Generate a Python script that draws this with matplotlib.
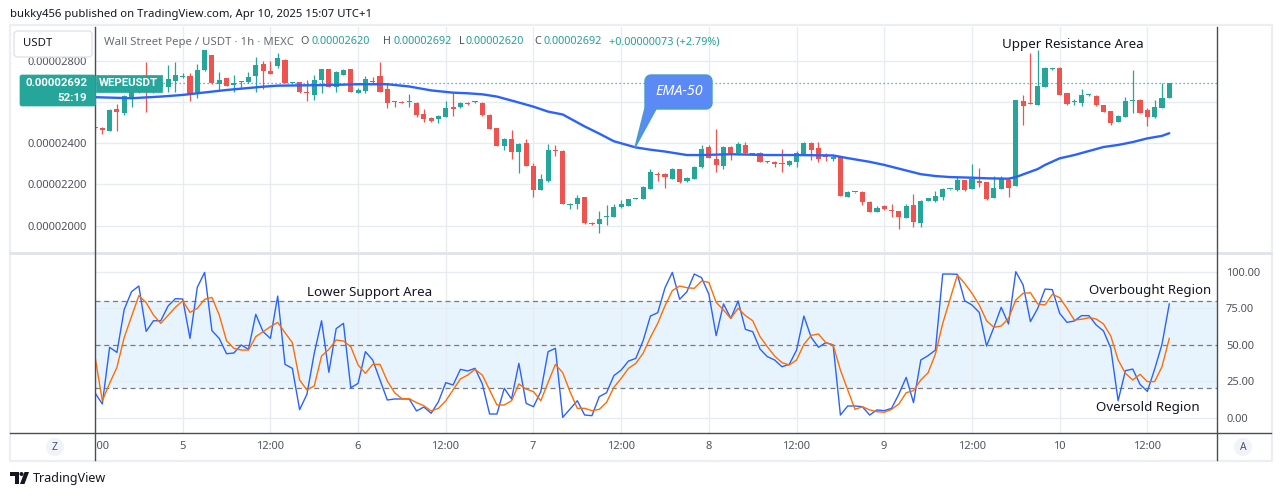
import numpy as np
import matplotlib
matplotlib.use("Agg")
import matplotlib.pyplot as plt
from matplotlib.patches import Rectangle, Circle, Polygon, FancyBboxPatch
from matplotlib.lines import Line2D
from matplotlib.transforms import Affine2D, blended_transform_factory

plt.rcParams['font.family'] = ['Noto Sans', 'DejaVu Sans']

# ---------------- data (hours counted from Apr 4 00:00) ----------------
hours = list(range(12, 160))
opens = [2478, 2473, 2462, 2567, 2546, 2627, 2651, 2700, 2648, 2675, 2675, 2704, 2721, 2727, 2640, 2756,
         2829, 2687, 2716, 2683, 2696, 2700, 2729, 2785, 2751, 2776, 2805, 2695, 2696, 2651, 2635, 2708,
         2760, 2675, 2734, 2760, 2646, 2656, 2704, 2727, 2664, 2602, 2601, 2599, 2598, 2543, 2523, 2517,
         2530, 2575, 2575, 2598, 2599, 2598, 2538, 2475, 2387, 2421, 2360, 2400, 2290, 2173, 2219, 2368,
         2365, 2099, 2104, 2139, 2015, 2007, 2041, 2044, 2089, 2096, 2130, 2131, 2180, 2250, 2251, 2227,
         2275, 2216, 2228, 2284, 2384, 2324, 2292, 2384, 2352, 2390, 2348, 2352, 2311, 2309, 2305, 2295,
         2311, 2347, 2403, 2379, 2340, 2326, 2335, 2141, 2162, 2162, 2115, 2068, 2096, 2073, 2070, 2039,
         2102, 2015, 2122, 2120, 2141, 2177, 2173, 2222, 2178, 2216, 2211, 2136, 2178, 2224, 2194, 2604,
         2596, 2586, 2675, 2760, 2766, 2643, 2601, 2598, 2633, 2630, 2585, 2557, 2505, 2530, 2607, 2609,
         2564, 2526, 2573, 2620]
highs = [2480, 2478, 2565, 2591, 2635, 2692, 2692, 2794, 2708, 2716, 2781, 2794, 2740, 2740, 2785, 2853,
         2829, 2745, 2716, 2732, 2701, 2745, 2821, 2800, 2800, 2837, 2808, 2698, 2700, 2708, 2732, 2760,
         2760, 2751, 2760, 2760, 2667, 2727, 2721, 2794, 2695, 2606, 2606, 2640, 2601, 2565, 2530, 2538,
         2606, 2646, 2599, 2602, 2606, 2602, 2543, 2475, 2428, 2465, 2400, 2421, 2303, 2251, 2395, 2392,
         2368, 2110, 2149, 2141, 2016, 2071, 2101, 2104, 2125, 2130, 2135, 2194, 2277, 2262, 2258, 2279,
         2277, 2238, 2290, 2390, 2390, 2468, 2386, 2387, 2408, 2408, 2352, 2356, 2316, 2314, 2373, 2319,
         2363, 2407, 2407, 2407, 2352, 2342, 2340, 2170, 2164, 2170, 2118, 2096, 2099, 2105, 2070, 2105,
         2154, 2127, 2135, 2170, 2183, 2180, 2235, 2224, 2298, 2282, 2214, 2241, 2243, 2235, 2611, 2635,
         2840, 2853, 2769, 2764, 2769, 2646, 2614, 2662, 2638, 2635, 2588, 2559, 2538, 2624, 2756, 2614,
         2570, 2611, 2692, 2692]
lows = [2466, 2444, 2460, 2462, 2538, 2578, 2643, 2554, 2643, 2667, 2651, 2651, 2719, 2606, 2619, 2753,
        2688, 2659, 2679, 2651, 2667, 2695, 2651, 2662, 2738, 2764, 2692, 2693, 2643, 2606, 2611, 2643,
        2675, 2651, 2734, 2651, 2643, 2646, 2692, 2651, 2573, 2578, 2594, 2575, 2530, 2505, 2505, 2500,
        2526, 2533, 2570, 2586, 2594, 2534, 2470, 2387, 2368, 2326, 2258, 2290, 2141, 2173, 2211, 2340,
        2105, 2080, 2080, 2010, 2005, 1963, 2002, 2042, 2088, 2096, 2128, 2130, 2177, 2219, 2185, 2225,
        2206, 2211, 2225, 2280, 2327, 2259, 2277, 2319, 2348, 2347, 2345, 2308, 2306, 2287, 2263, 2290,
        2287, 2343, 2319, 2311, 2316, 2316, 2146, 2141, 2161, 2102, 2067, 2067, 2076, 2041, 1982, 2036,
        1992, 1995, 2120, 2117, 2127, 2175, 2170, 2170, 2177, 2190, 2127, 2135, 2177, 2141, 2193, 2489,
        2590, 2586, 2674, 2756, 2635, 2585, 2586, 2583, 2630, 2583, 2552, 2491, 2504, 2526, 2549, 2547,
        2484, 2523, 2572, 2620]
closes = [2472, 2465, 2562, 2554, 2630, 2656, 2675, 2648, 2692, 2700, 2711, 2732, 2727, 2635, 2756, 2853,
          2692, 2708, 2680, 2692, 2701, 2721, 2781, 2753, 2738, 2813, 2695, 2696, 2651, 2643, 2708, 2760,
          2675, 2748, 2756, 2651, 2659, 2711, 2700, 2651, 2594, 2599, 2598, 2601, 2539, 2520, 2507, 2533,
          2570, 2565, 2594, 2590, 2602, 2538, 2471, 2387, 2423, 2360, 2397, 2290, 2173, 2227, 2368, 2363,
          2105, 2101, 2133, 2013, 2007, 2033, 2044, 2093, 2105, 2130, 2133, 2188, 2261, 2246, 2238, 2275,
          2212, 2233, 2284, 2373, 2331, 2295, 2382, 2352, 2397, 2352, 2352, 2311, 2308, 2300, 2298, 2316,
          2352, 2403, 2368, 2324, 2335, 2335, 2146, 2162, 2163, 2117, 2068, 2084, 2080, 2070, 2044, 2096,
          2020, 2122, 2133, 2144, 2178, 2178, 2222, 2173, 2225, 2209, 2130, 2182, 2225, 2185, 2611, 2583,
          2593, 2679, 2764, 2761, 2636, 2591, 2604, 2635, 2635, 2586, 2554, 2500, 2533, 2606, 2609, 2549,
          2530, 2577, 2620, 2692]

ema_hours = [12, 17, 21, 24, 26, 30, 35, 37, 44, 48, 52, 55, 58, 61, 63, 65, 67, 70, 72, 74, 76, 79, 81,
             83, 86, 88, 90, 93, 95, 99, 104, 108, 113, 115, 118, 120, 122, 125, 127, 129, 132, 134, 137,
             138, 141, 142, 144, 146, 150, 152, 154, 156, 158, 159]
ema_values = [2624, 2619, 2627, 2635, 2643, 2659, 2675, 2680, 2683, 2687, 2687, 2676, 2657, 2646, 2643,
              2638, 2627, 2598, 2578, 2554, 2540, 2482, 2447, 2410, 2380, 2369, 2360, 2343, 2343, 2347,
              2343, 2343, 2341, 2328, 2310, 2295, 2277, 2250, 2241, 2236, 2233, 2230, 2228, 2236, 2275,
              2295, 2327, 2343, 2382, 2392, 2406, 2424, 2436, 2449]

stoch_k = [17, 9.4, 48.2, 44.7, 74.2, 86.3, 90.2, 59.1, 66.4, 66.4, 76.5, 81.5, 81.3, 54.3, 89.3, 99.5,
           59.6, 54.3, 43.8, 44.3, 49.8, 46.8, 70.8, 58.9, 54.3, 83.3, 36.5, 33.8, 5.5, 16, 44.1, 66.4,
           31.1, 61, 64.6, 20.5, 23.5, 45.2, 39.5, 25.8, 12.1, 12.8, 12.8, 12.8, 4.6, 7.3, 3, 11,
           24, 22.4, 33.1, 32, 33.8, 23.1, 2.5, 2.5, 20.1, 12.8, 37.2, 9.8, 7.5, 17.8, 45.2, 47.5,
           0.2, 5.9, 11.6, 1.8, 1.4, 14.4, 17.1, 28.8, 32.6, 38.8, 40.6, 52.7, 69.6, 71.9, 89, 99.5,
           81.1, 86.3, 98.4, 95.9, 84.5, 56.2, 77.9, 68, 79.9, 60.5, 58.9, 47, 41.8, 39.5, 34.9, 36.5,
           46.3, 69.6, 55, 48.2, 51.4, 49.8, 1.8, 8, 8, 7.5, 1.8, 5.3, 4.8, 6.4, 16.2, 27.6,
           10.3, 39.5, 42.5, 46.3, 98.4, 98.4, 98.2, 80.1, 77.2, 72.1, 49.1, 61.9, 75.6, 64.2, 100, 90.9,
           65.8, 74.9, 88.1, 87.7, 71.5, 65.3, 66.2, 69.9, 69.9, 63.5, 59.4, 47.5, 11.6, 32.2, 33.3, 22.8,
           18, 33.3, 50.2, 77.9]
stoch_d = [42, 11.6, 23.5, 34.5, 55, 69.2, 83.6, 78.8, 70.3, 64.6, 70.1, 75.6, 80.1, 72.1, 74.9, 81.1,
           82.4, 70.3, 52.7, 47.5, 46.3, 46.3, 55.5, 58.9, 62.3, 65.3, 58.2, 51.4, 25.8, 19, 21.7, 42.2,
           46.8, 53.2, 52.5, 48.6, 36.1, 30.4, 36.5, 36.5, 25.1, 17.1, 13, 13, 10.3, 8.2, 4.6, 6.4,
           11.6, 19, 26.5, 29.2, 33.1, 29.2, 19, 8.7, 8.7, 11.6, 23.1, 19.6, 17.8, 11.6, 24.2, 36.5,
           30.8, 17.8, 6.4, 6.4, 4.8, 5.7, 10.5, 20.8, 26.9, 33.8, 37.2, 44.1, 55, 64.6, 76.7, 87,
           90.2, 89, 88.6, 93.6, 92.7, 79, 73.7, 68, 74.9, 69.9, 66.4, 55.5, 48.6, 42.2, 37.7, 36.1,
           39.5, 50.2, 56.4, 57.3, 51.4, 49.8, 32.6, 19, 5.7, 7.5, 5.3, 4.1, 3.7, 5.7, 9.4, 17.1,
           18.5, 25.8, 30.8, 43.6, 64.6, 81.1, 97.7, 92, 85.2, 77.2, 66.4, 61.9, 62.8, 68, 80.6, 85.2,
           85.6, 77.9, 77.2, 84.5, 82.2, 74.9, 66.9, 67.4, 68.5, 67.6, 64.2, 55.9, 39.5, 30.4, 25.8, 29.7,
           24.7, 24.7, 34.9, 54.3]

price_ticks = [2000, 2200, 2400, 2600, 2800]
# the 2600 label sits under the last-price tag in the reference, so it is not shown
price_tick_labels = ["0.00002000", "0.00002200", "0.00002400", "", "0.00002800"]
stoch_ticks = [0, 25, 50, 75, 100]
stoch_tick_labels = ["0.00", "25.00", "50.00", "75.00", "100.00"]
time_ticks = [12, 24, 36, 48, 60, 72, 84, 96, 108, 120, 132, 144, 156]
time_labels = ["12:00", "5", "12:00", "6", "12:00", "7", "12:00", "8", "12:00", "9", "12:00", "10", "12:00"]

# ---------------- styling ----------------
UP, DOWN = '#26a69a', '#ef5350'
GRID = '#e6ecf2'
AXC = '#4a4d57'
TXT = '#131722'
LBL = '#50535e'

W, H = 1281, 496
fig = plt.figure(figsize=(W / 100, H / 100), dpi=100)
fig.patch.set_facecolor('white')
pix = Affine2D().scale(1 / W, -1 / H).translate(0, 1) + fig.transFigure


def add_ax(x0, y0, x1, y1):
    return fig.add_axes([x0 / W, 1 - y1 / H, (x1 - x0) / W, (y1 - y0) / H])


XLIM = (12.06, 165.53)
ax1 = add_ax(95, 27, 1217, 252)
ax2 = add_ax(95, 253, 1217, 433)
ax3 = add_ax(95, 433, 1217, 460)

for ax in (ax1, ax2, ax3):
    ax.set_xlim(*XLIM)
    for s in ax.spines.values():
        s.set_visible(False)
    ax.set_facecolor('none')

# ---------- price pane ----------
ax1.set_ylim(1872, 2965)
ax1.set_xticks(time_ticks)
ax1.set_xticklabels([])
ax1.set_yticks(price_ticks)
ax1.set_yticklabels(price_tick_labels)
ax1.tick_params(axis='x', length=0)
ax1.tick_params(axis='y', length=0, pad=5.8, labelsize=8, labelcolor=LBL)
ax1.grid(True, color=GRID, lw=1.0)
ax1.set_axisbelow(True)

o = np.array(opens, float)
c = np.array(closes, float)
hi = np.array(highs, float)
lo = np.array(lows, float)
cols = [UP if cc >= oo else DOWN for oo, cc in zip(o, c)]
ax1.vlines(hours, lo, hi, colors=cols, lw=0.9, zorder=2)
ax1.bar(hours, np.maximum(np.abs(c - o), 5), bottom=np.minimum(o, c), width=0.7,
        color=cols, lw=0, zorder=3)
ax1.plot(ema_hours, ema_values, color='#2962ff', lw=1.7, zorder=4, solid_joinstyle='round',
         solid_capstyle='round')
ax1.axhline(closes[-1], color=UP, lw=0.9, ls=(0, (1, 2.2)), zorder=1.5)

# ---------- stoch RSI pane ----------
ax2.set_ylim(-10.5, 112.8)
ax2.set_xticks(time_ticks)
ax2.set_xticklabels([])
ax2.yaxis.tick_right()
ax2.set_yticks(stoch_ticks)
ax2.set_yticklabels(stoch_tick_labels)
ax2.tick_params(axis='x', length=0)
ax2.tick_params(axis='y', length=0, pad=6.5, labelsize=8, labelcolor=LBL)
ax2.grid(True, color=GRID, lw=1.0)
ax2.set_axisbelow(True)
ax2.axhspan(20, 80, color='#2196f3', alpha=0.1, lw=0, zorder=0.5)
for lvl in (80, 50, 20):
    ax2.axhline(lvl, color='#787b86', lw=0.9, ls=(0, (4, 3)), zorder=1)
ax2.plot(hours, stoch_k, color='#2962ff', lw=1.0, zorder=3)
ax2.plot(hours, stoch_d, color='#ff6d00', lw=1.0, zorder=3)

# ---------- time axis ----------
ax3.set_ylim(0, 1)
ax3.set_xticks([])
ax3.set_yticks([])
tb = blended_transform_factory(ax3.transData, ax3.transAxes)
for t, lab in zip(time_ticks, time_labels):
    ax3.text(t, 0.5, lab, transform=tb, ha='center', va='center', fontsize=8, color=LBL,
             clip_on=True)

# ---------- frame lines ----------
fig.patches.append(Rectangle((10, 25), 1262, 436, transform=pix, fill=False, ec='#eceef3', lw=1.6))
fig.lines.append(Line2D([10, 1271], [252.5, 252.5], transform=pix, color='#e0e3eb', lw=2))
fig.lines.append(Line2D([10, 1271], [433, 433], transform=pix, color=AXC, lw=1))
fig.lines.append(Line2D([95, 95], [27, 460], transform=pix, color=AXC, lw=1))
fig.lines.append(Line2D([1217, 1217], [27, 460], transform=pix, color=AXC, lw=1))

# ---------- header / legend ----------
fig.text(10 / W, 1 - 15 / H, "bukky456 published on TradingView.com, Apr 10, 2025 15:07 UTC+1",
         fontsize=8.15, color=TXT, va='center')
LEG_Y = 1 - 42 / H
LFS = 7.8
fig.text(104 / W, LEG_Y, "Wall Street Pepe / USDT · 1h · MEXC", fontsize=8.2, color='#6a6d78', va='center')
VAL = '#22a195'
for lx, letter, vx, val in [(300, "O", 311.5, "0.00002620"), (383, "H", 393, "0.00002692"),
                            (459, "L", 466, "0.00002620"), (534, "C", 543, "0.00002692")]:
    fig.text(lx / W, LEG_Y, letter, fontsize=LFS, color='#50535e', va='center')
    fig.text(vx / W, LEG_Y, val, fontsize=LFS, color=VAL, va='center')
fig.text(609 / W, LEG_Y, "+0.00000073 (+2.79%)", fontsize=LFS, color=VAL, va='center')

# USDT box
fig.patches.append(FancyBboxPatch((14, 31), 78, 26, boxstyle='round,pad=0,rounding_size=4',
                                  transform=pix, fc='white', ec='#e0e3eb', lw=1, zorder=5))
fig.text(23 / W, 1 - 44 / H, "USDT", fontsize=8.2, color=TXT, va='center', zorder=6)

# price label boxes
fig.patches.append(FancyBboxPatch((20, 75), 75.5, 31, boxstyle='round,pad=0,rounding_size=2',
                                  transform=pix, fc=UP, ec=UP, lw=0.5, zorder=5))
fig.patches.append(Rectangle((95.5, 75), 66, 16.5, transform=pix, fc=UP, ec=UP, lw=0.5, zorder=5))
fig.text(87 / W, 1 - 83.3 / H, "0.00002692", fontsize=8.2, color='white', weight='bold',
         family='Roboto', ha='right', va='center', zorder=6)
fig.text(87 / W, 1 - 98 / H, "52:19", fontsize=8.2, color='white', weight='bold',
         family='Roboto', ha='right', va='center', zorder=6)
fig.text(128.5 / W, 1 - 83.3 / H, "WEPEUSDT", fontsize=8.2, color='white', weight='bold',
         family='Roboto', ha='center', va='center', zorder=6)

# EMA-50 callout bubble
bx0, bx1, by0, by1, r = 645, 712, 75, 109, 6
pts = []
for cx, cy, a0, a1 in [(bx0 + r, by0 + r, 180, 270), (bx1 - r, by0 + r, 270, 360),
                       (bx1 - r, by1 - r, 0, 90)]:
    for a in np.linspace(np.radians(a0), np.radians(a1), 8):
        pts.append((cx + r * np.cos(a), cy + r * np.sin(a)))
pts += [(656, by1), (635, 147.5), (bx0, by1 - 1)]
fig.patches.append(Polygon(pts, closed=True, transform=pix, fc='#5b8af7', ec='#3f9fc4', lw=1.0, zorder=5))
fig.text(679 / W, 1 - 91.5 / H, "EMA-50", fontsize=10.3, color='white', style='italic', weight='bold',
         ha='center', va='center', zorder=6)

# annotations
fig.text(1073 / W, 1 - 44.5 / H, "Upper Resistance Area", fontsize=9.6, color=TXT, ha='center', va='center')
fig.text(370 / W, 1 - 292.5 / H, "Lower Support Area", fontsize=9.6, color=TXT, ha='center', va='center')
fig.text(1150 / W, 1 - 290.5 / H, "Overbought Region", fontsize=9.5, color=TXT, ha='center', va='center')
fig.text(1148 / W, 1 - 408 / H, "Oversold Region", fontsize=9.6, color=TXT, ha='center', va='center')

# Z / A buttons
for bxp, letter in [(55, "Z"), (1243, "A")]:
    fig.patches.append(Circle((bxp, 447), 9, transform=pix, fc='#f0f3fa', ec='none', zorder=5))
    fig.text(bxp / W, 1 - 447.5 / H, letter, fontsize=7.5, color='#50535e', ha='center', va='center', zorder=6)

# TradingView logo
fig.patches.append(Polygon([(10, 472), (19, 472), (19, 484), (15, 484), (15, 476), (10, 476)],
                           transform=pix, fc=TXT, ec='none'))
fig.patches.append(Circle((21.5, 474), 2, transform=pix, fc=TXT, ec='none'))
fig.patches.append(Polygon([(20, 484), (24.5, 484), (29, 472), (24.5, 472)], transform=pix, fc=TXT, ec='none'))
fig.text(33 / W, 1 - 478.5 / H, "TradingView", fontsize=9.0, color=TXT, va='center')

fig.savefig("out.png", dpi=100, facecolor='white')
